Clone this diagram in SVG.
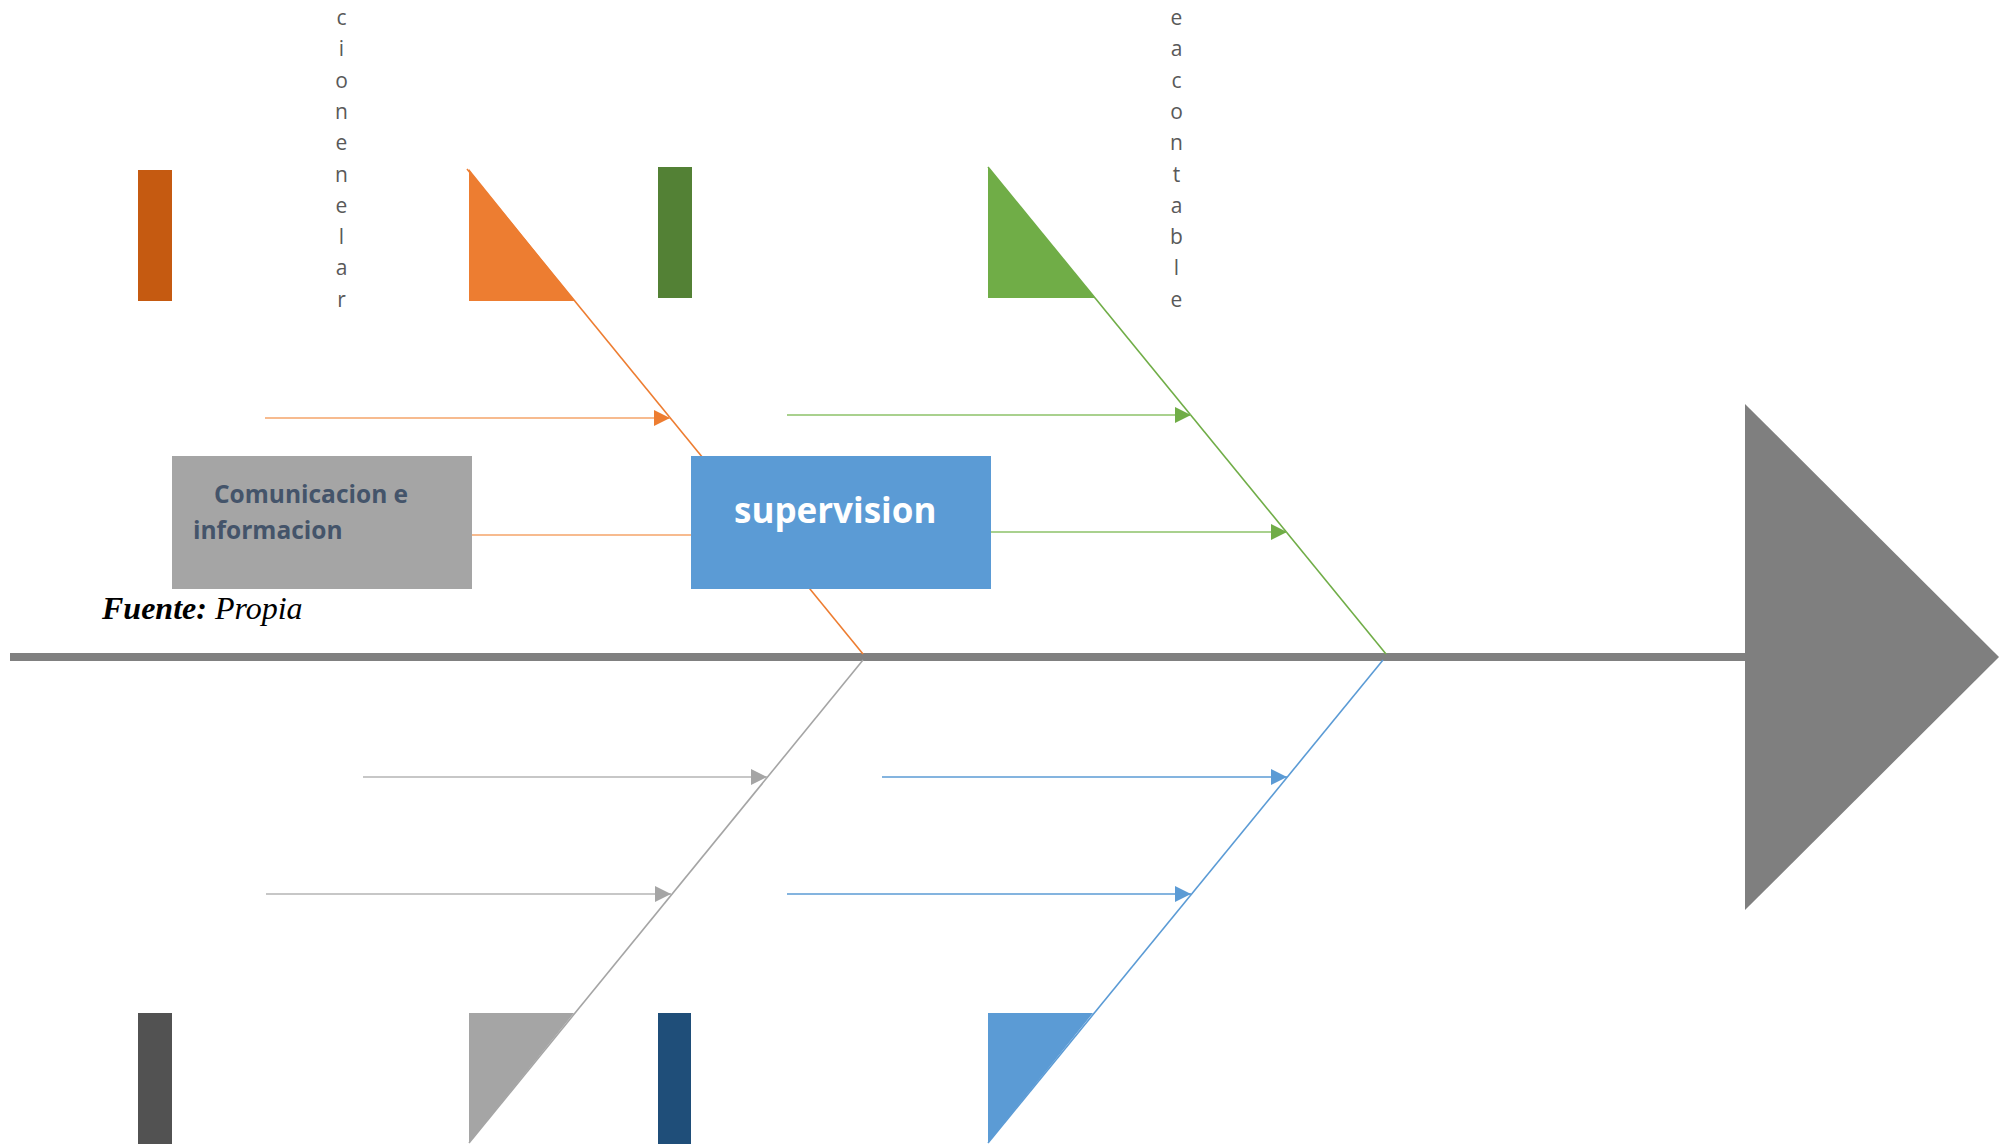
<svg xmlns="http://www.w3.org/2000/svg" width="1999" height="1145" viewBox="0 0 1999 1145">
<style>
.vt{font-family:"Open Sans","Noto Sans",sans-serif;font-size:21px;fill:#595959;text-anchor:middle}
.bone{fill:none;stroke-width:1.6}
.arr{fill:none;stroke-width:1.5}
</style>
<defs>
<marker id="mo" markerUnits="userSpaceOnUse" markerWidth="18" markerHeight="16" refX="16" refY="8" orient="auto"><path d="M0,0 L16,8 L0,16 Z" fill="#ED7D31"/></marker>
<marker id="mg" markerUnits="userSpaceOnUse" markerWidth="18" markerHeight="16" refX="16" refY="8" orient="auto"><path d="M0,0 L16,8 L0,16 Z" fill="#70AD47"/></marker>
<marker id="ma" markerUnits="userSpaceOnUse" markerWidth="18" markerHeight="16" refX="16" refY="8" orient="auto"><path d="M0,0 L16,8 L0,16 Z" fill="#A5A5A5"/></marker>
<marker id="mb" markerUnits="userSpaceOnUse" markerWidth="18" markerHeight="16" refX="16" refY="8" orient="auto"><path d="M0,0 L16,8 L0,16 Z" fill="#5B9BD5"/></marker>
</defs>
<rect width="1999" height="1145" fill="#fff"/>

<g id="connectors">
<line x1="10" y1="657" x2="1750" y2="657" stroke="#808080" stroke-width="8"/>
<line class="bone" x1="467" y1="169" x2="863" y2="654" stroke="#ED7D31"/>
<line class="bone" x1="988" y1="167" x2="1386" y2="654" stroke="#70AD47"/>
<line class="bone" x1="863" y1="660" x2="469" y2="1143" stroke="#A5A5A5"/>
<line class="bone" x1="1383" y1="660" x2="988" y2="1143" stroke="#5B9BD5"/>
<line class="arr" x1="265" y1="418" x2="670" y2="418" stroke="#F4A46A" marker-end="url(#mo)"/>
<line class="arr" x1="472" y1="535" x2="692" y2="535" stroke="#F4A46A"/>
<line class="arr" x1="787" y1="415" x2="1191" y2="415" stroke="#8CC269" marker-end="url(#mg)"/>
<line class="arr" x1="990" y1="532" x2="1287" y2="532" stroke="#8CC269" marker-end="url(#mg)"/>
<line class="arr" x1="363" y1="777" x2="767" y2="777" stroke="#B5B5B5" marker-end="url(#ma)"/>
<line class="arr" x1="266" y1="894" x2="671" y2="894" stroke="#B5B5B5" marker-end="url(#ma)"/>
<line class="arr" x1="882" y1="777" x2="1287" y2="777" stroke="#5B9BD5" marker-end="url(#mb)"/>
<line class="arr" x1="787" y1="894" x2="1191" y2="894" stroke="#5B9BD5" marker-end="url(#mb)"/>
</g>

<g id="head"><polygon points="1745,404 1999,657 1745,910" fill="#7F7F7F"/></g>

<g id="rect-orange"><rect x="138" y="170" width="34" height="131" fill="#C55A11"/></g>
<g id="tri-orange"><polygon points="469,169 469,301 575,301" fill="#ED7D31"/></g>
<g id="rect-green"><rect x="658" y="167" width="34" height="131" fill="#538135"/></g>
<g id="tri-green"><polygon points="988,167 988,298 1095,298" fill="#70AD47"/></g>
<g id="rect-gray"><rect x="138" y="1013" width="34" height="131" fill="#525252"/></g>
<g id="tri-gray"><polygon points="469,1013 574,1013 469,1143" fill="#A5A5A5"/></g>
<g id="rect-navy"><rect x="658" y="1013" width="33" height="131" fill="#1F4E79"/></g>
<g id="tri-blue"><polygon points="988,1013 1093,1013 988,1143" fill="#5B9BD5"/></g>

<g id="label-cionenelar">
<text class="vt"><tspan x="341.5" y="25">c</tspan><tspan x="341.5" y="56.3">i</tspan><tspan x="341.5" y="87.6">o</tspan><tspan x="341.5" y="118.9">n</tspan><tspan x="341.5" y="150.2">e</tspan><tspan x="341.5" y="181.5">n</tspan><tspan x="341.5" y="212.8">e</tspan><tspan x="341.5" y="244.1">l</tspan><tspan x="341.5" y="275.4">a</tspan><tspan x="341.5" y="306.7">r</tspan></text>
</g>
<g id="label-eacontable">
<text class="vt"><tspan x="1176.5" y="25">e</tspan><tspan x="1176.5" y="56.3">a</tspan><tspan x="1176.5" y="87.6">c</tspan><tspan x="1176.5" y="118.9">o</tspan><tspan x="1176.5" y="150.2">n</tspan><tspan x="1176.5" y="181.5">t</tspan><tspan x="1176.5" y="212.8">a</tspan><tspan x="1176.5" y="244.1">b</tspan><tspan x="1176.5" y="275.4">l</tspan><tspan x="1176.5" y="306.7">e</tspan></text>
</g>

<g id="node-comunicacion">
<rect x="172" y="456" width="300" height="133" fill="#A5A5A5"/>
<text font-family="'Open Sans','Noto Sans',sans-serif" font-weight="bold" font-size="24.5" fill="#44546A"><tspan x="214" y="503">Comunicacion e</tspan><tspan x="193" y="539">informacion</tspan></text>
</g>

<g id="node-supervision">
<rect x="691" y="456" width="300" height="133" fill="#5B9BD5"/>
<text x="734" y="523" font-family="'Open Sans','Noto Sans',sans-serif" font-weight="bold" font-size="35" fill="#fff">supervision</text>
</g>

<g id="source">
<text x="102" y="619" font-family="'Liberation Serif','Times New Roman',serif" font-size="32" fill="#000"><tspan font-weight="bold" font-style="italic">Fuente:</tspan><tspan font-style="italic"> Propia</tspan></text>
</g>
</svg>
